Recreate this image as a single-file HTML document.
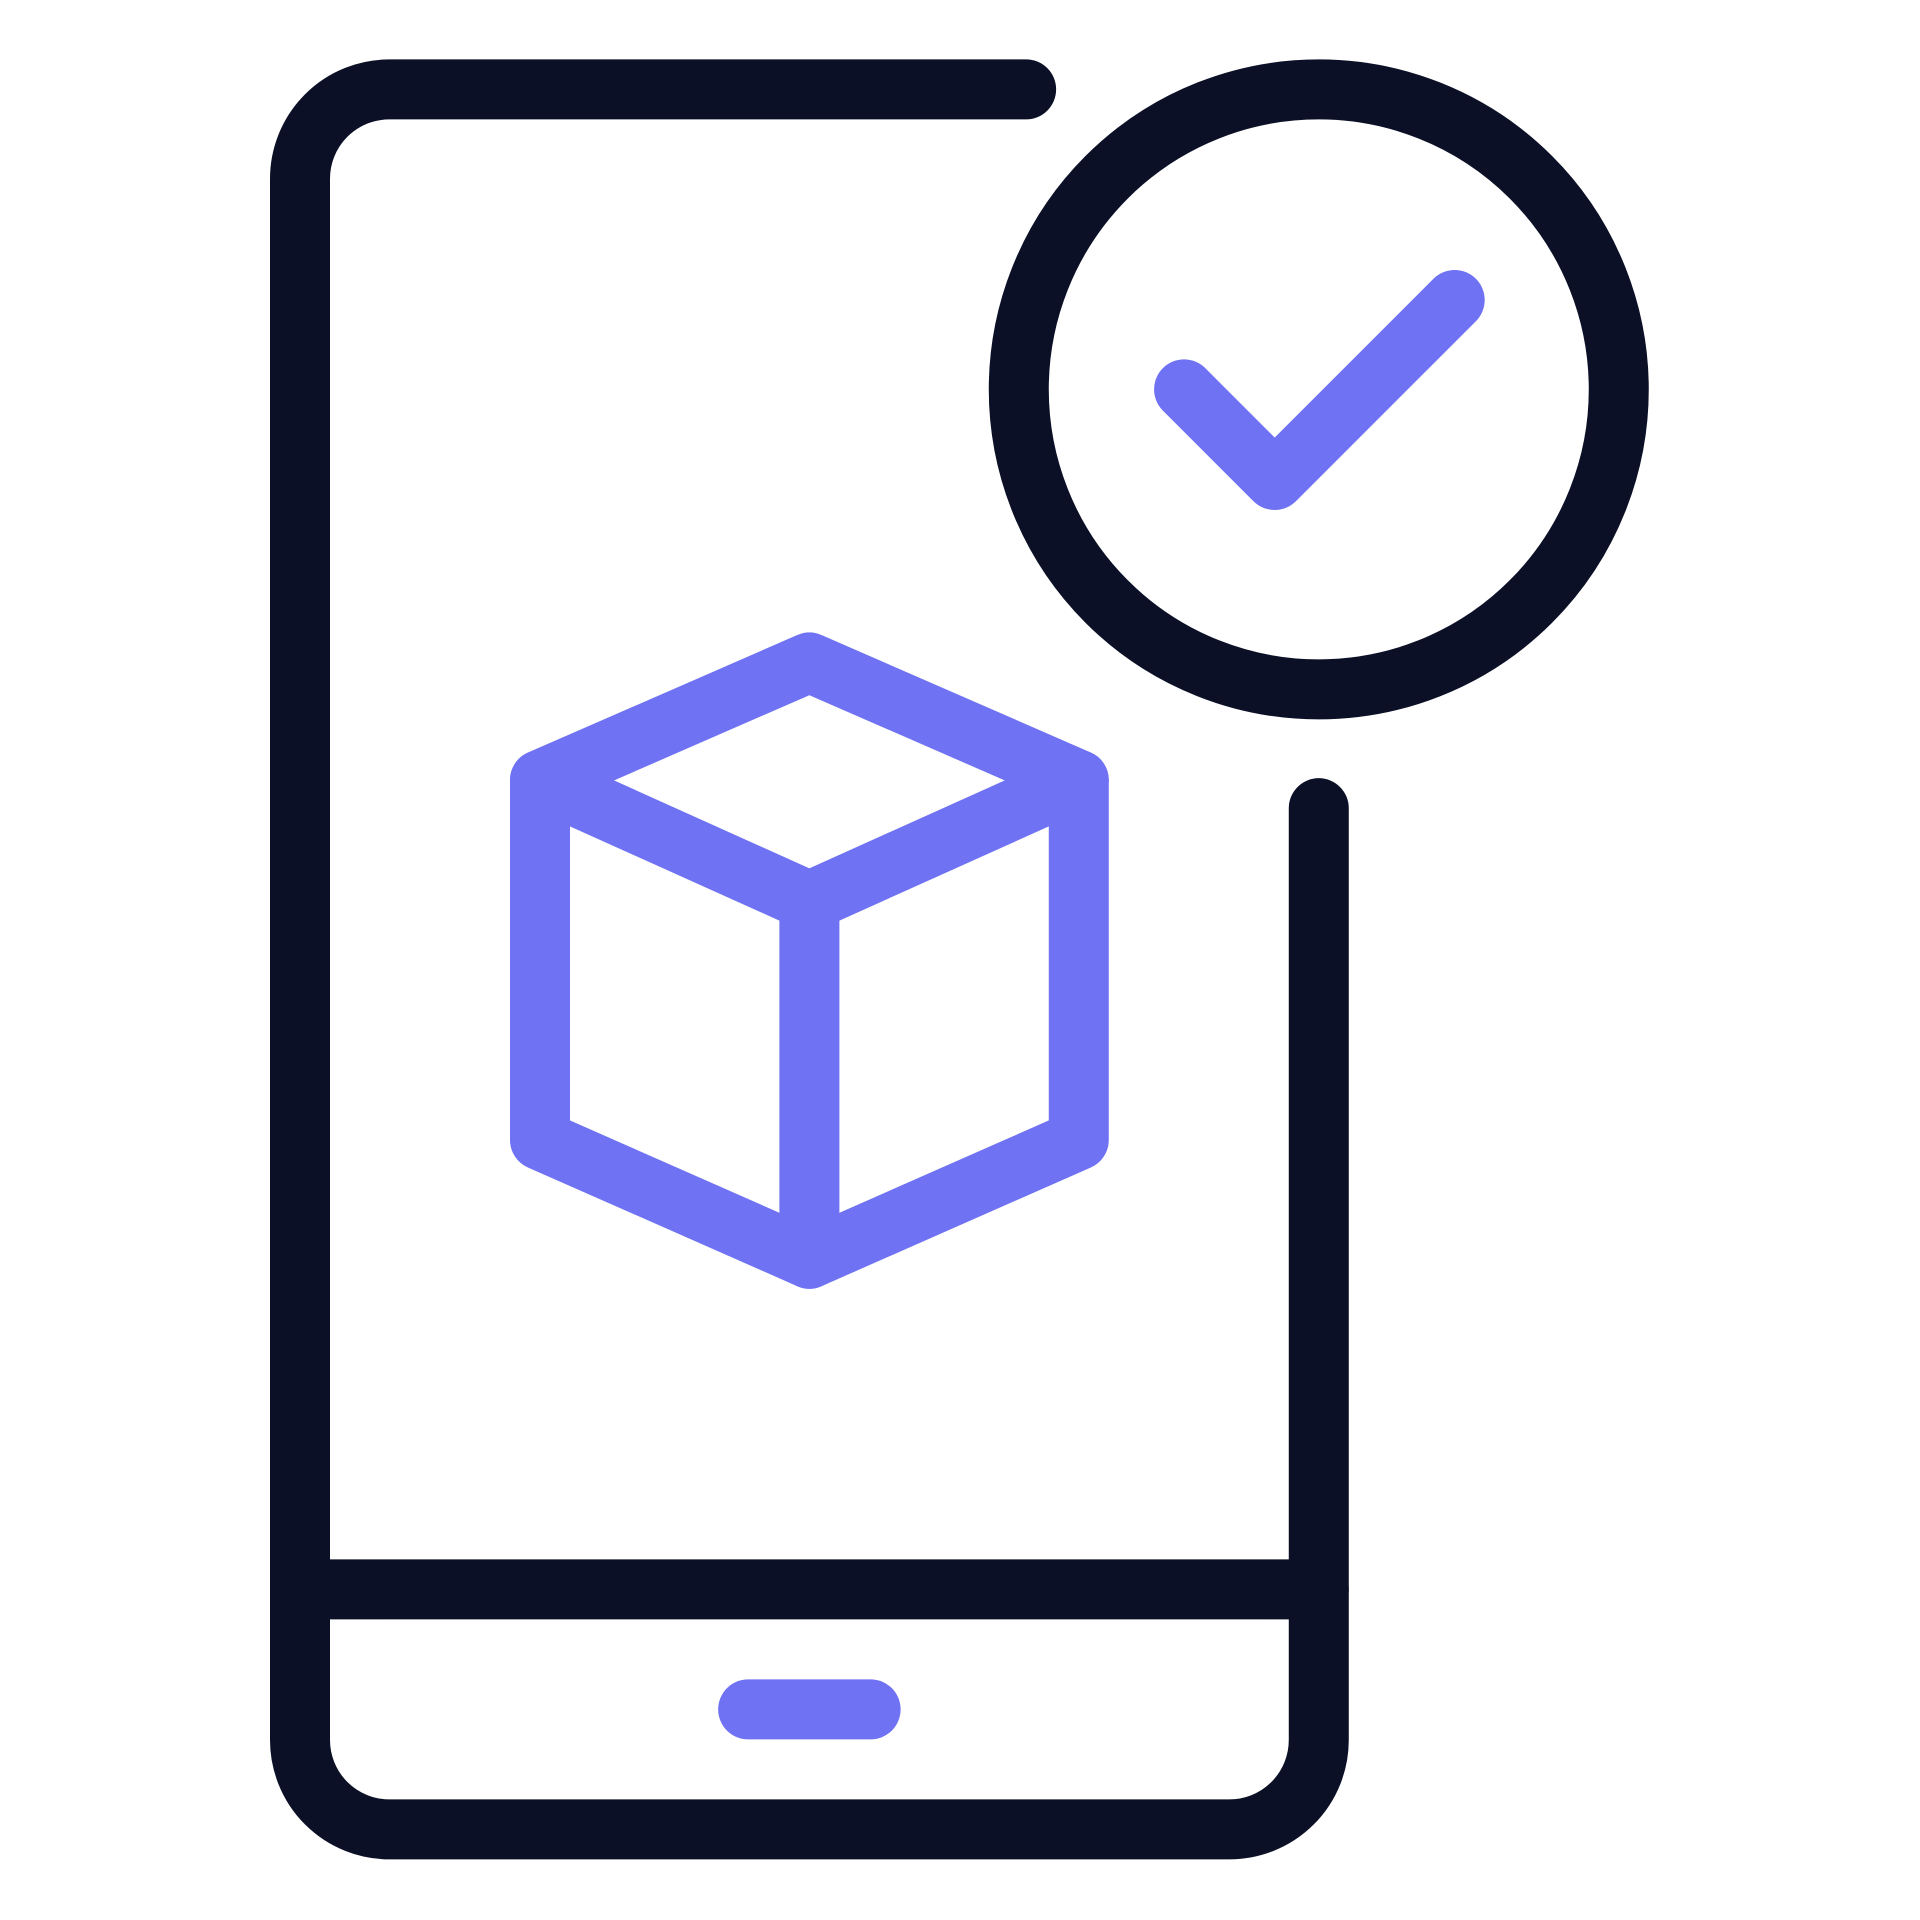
<!DOCTYPE html>
<html><head><meta charset="utf-8"><style>
html,body{margin:0;padding:0;background:#fff;}
svg{display:block;}
</style></head><body>
<svg width="1920" height="1920" viewBox="0 0 1568 1568" xmlns="http://www.w3.org/2000/svg">
<g fill="none" stroke="#0b1026" stroke-width="49" stroke-linecap="round" stroke-linejoin="round">
<path d="M838 73 H318 A73 73 0 0 0 245 146 V1421 A73 73 0 0 0 318 1494 H1004 A73 73 0 0 0 1077 1421 V660"/>
<line x1="245" y1="1298" x2="1077" y2="1298"/>
<circle cx="1077" cy="318" r="245"/>
</g>
<g fill="none" stroke="#6e72f3" stroke-width="49" stroke-linecap="round" stroke-linejoin="round">
<polyline points="967,318 1041,392 1188,245"/>
<line x1="611" y1="1396" x2="711" y2="1396"/>
<polygon points="661,541 881,637 881,931 661,1028 441,931 441,637"/>
<polyline points="441,637 661,736 881,637"/>
<line x1="661" y1="736" x2="661" y2="1028"/>
</g>
</svg>
</body></html>
